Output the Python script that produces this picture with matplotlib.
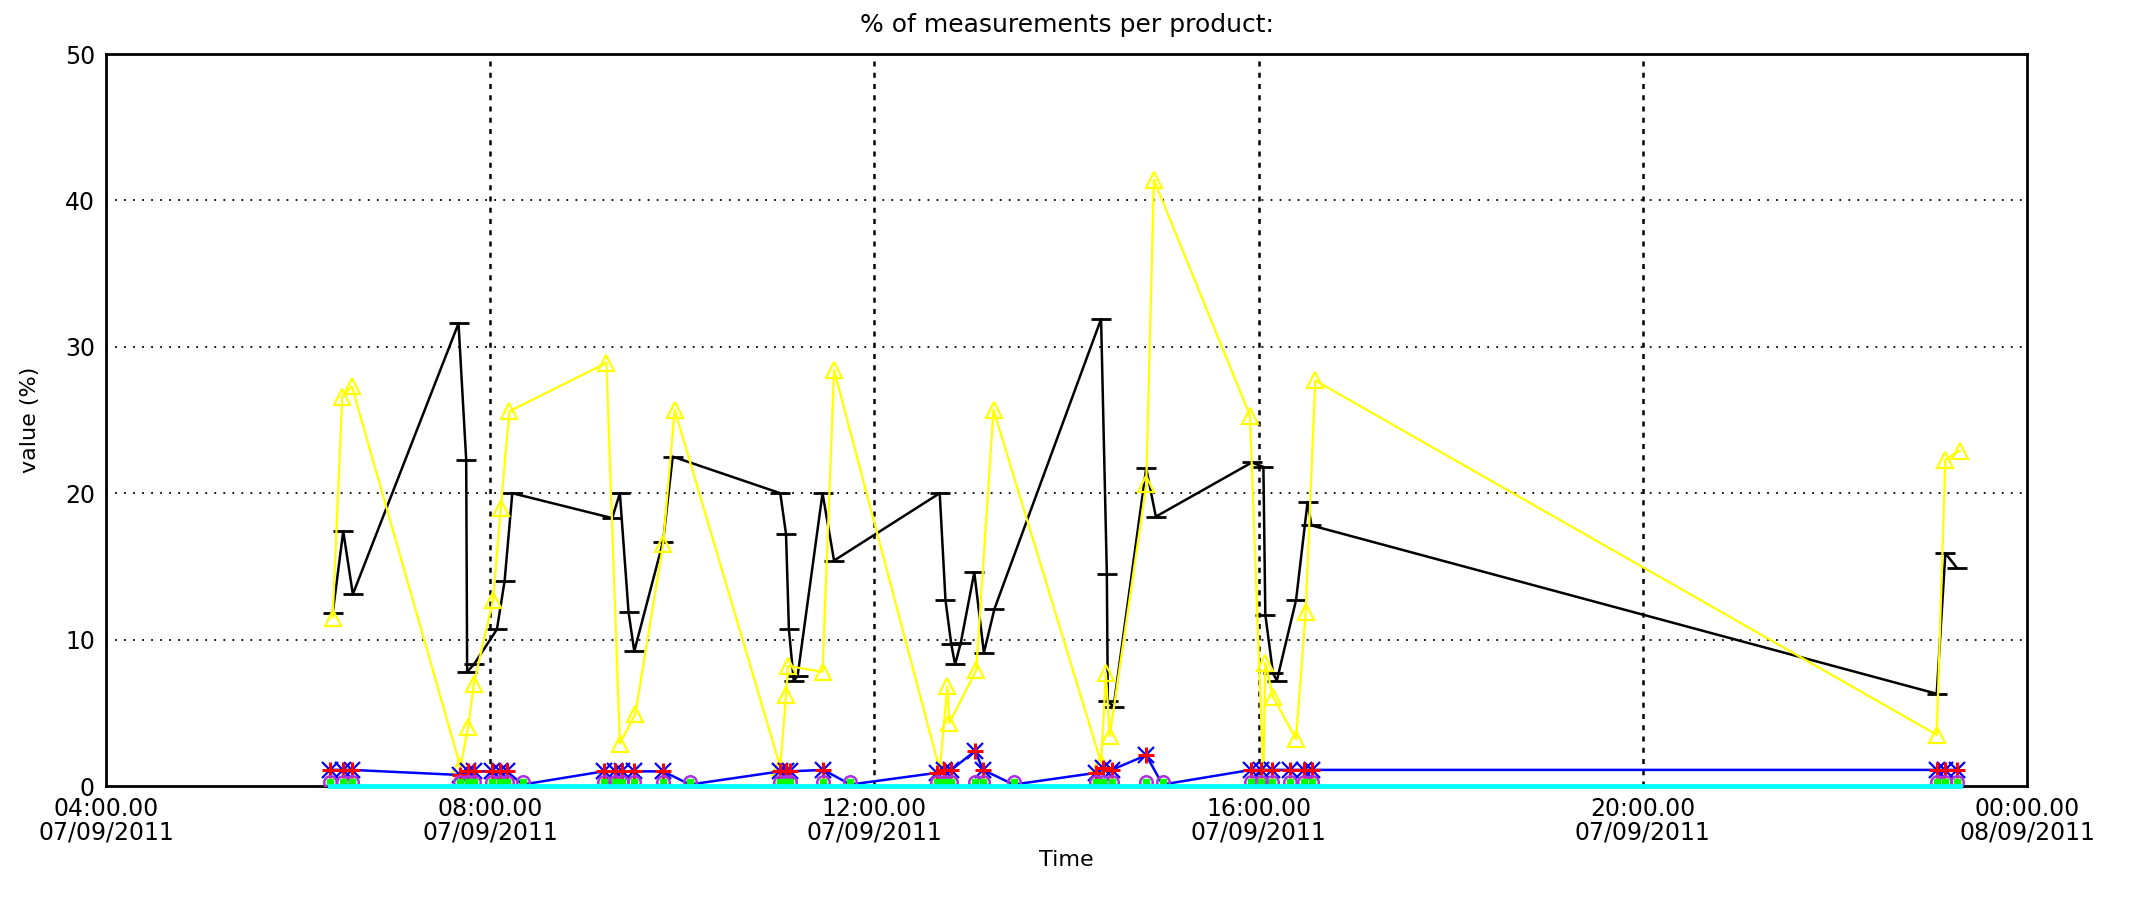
import matplotlib
matplotlib.use('Agg')
import matplotlib.pyplot as plt
import matplotlib.dates as mdates
import numpy as np
import pandas as pd

plt.rcParams['font.family'] = ['Liberation Sans Narrow', 'DejaVu Sans']
plt.rcParams['font.size'] = 16

# hours after midnight 07/09/2011, value (%)
black_hours = [6.36, 6.47, 6.57, 7.67, 7.75, 7.76, 7.83, 8.07, 8.15, 8.23,
               9.27, 9.35, 9.44, 9.50, 9.80, 9.90, 11.02, 11.08, 11.11, 11.16,
               11.20, 11.46, 11.58, 12.68, 12.74, 12.80, 12.84, 12.90, 13.04, 13.14,
               13.25, 14.36, 14.42, 14.43, 14.49, 14.83, 14.93, 15.93, 16.05, 16.07,
               16.15, 16.19, 16.39, 16.51, 16.55, 23.06, 23.15, 23.27]
black_vals = [11.8, 17.4, 13.1, 31.6, 22.3, 7.8, 8.3, 10.7, 14.0, 20.0,
              18.3, 20.0, 11.9, 9.2, 16.7, 22.5, 20.0, 17.2, 10.7, 7.2,
              7.5, 20.0, 15.4, 20.0, 12.7, 9.7, 8.3, 9.8, 14.6, 9.1,
              12.1, 31.9, 14.5, 5.8, 5.4, 21.7, 18.4, 22.1, 21.8, 11.7,
              7.7, 7.2, 12.7, 19.4, 17.8, 6.3, 15.9, 14.9]

yellow_hours = [6.36, 6.46, 6.56, 7.69, 7.77, 7.83, 8.03, 8.11, 8.20, 9.21,
                9.35, 9.51, 9.80, 9.92, 11.02, 11.08, 11.10, 11.46, 11.58, 12.68,
                12.76, 12.78, 13.06, 13.24, 14.36, 14.41, 14.45, 14.83, 14.91, 15.91,
                16.05, 16.07, 16.15, 16.39, 16.49, 16.59, 23.06, 23.15, 23.30]
yellow_vals = [11.5, 26.6, 27.3, 1.3, 4.0, 7.0, 12.7, 19.0, 25.6, 28.9,
               2.9, 4.9, 16.5, 25.7, 1.3, 6.2, 8.2, 7.8, 28.4, 1.1,
               6.8, 4.3, 7.9, 25.7, 1.6, 7.7, 3.4, 20.6, 41.4, 25.3,
               0.5, 8.4, 6.1, 3.2, 11.9, 27.7, 3.5, 22.3, 22.9]

blue_hours = [6.33, 6.47, 6.56, 7.69, 7.77, 7.83, 8.02, 8.10, 8.17, 8.34,
              9.18, 9.30, 9.37, 9.50, 9.80, 10.08, 11.02, 11.08, 11.12, 11.47,
              11.75, 12.65, 12.72, 12.80, 13.05, 13.13, 13.45, 14.31, 14.38, 14.47,
              14.83, 15.00, 15.92, 16.02, 16.14, 16.33, 16.47, 16.56, 23.06, 23.15,
              23.27]
blue_vals = [1.1, 1.1, 1.1, 0.75, 1.0, 1.0, 1.0, 1.0, 1.0, 0.1,
             1.0, 1.0, 1.0, 1.0, 1.0, 0.1, 1.0, 1.0, 1.0, 1.1,
             0.1, 0.9, 1.1, 1.1, 2.4, 1.1, 0.1, 0.9, 1.2, 1.1,
             2.1, 0.1, 1.1, 1.1, 1.1, 1.1, 1.1, 1.1, 1.1, 1.1,
             1.1]

low_vals = [0.3, 0.3, 0.3, 0.3, 0.3, 0.3, 0.3, 0.3, 0.3, 0.3,
            0.3, 0.3, 0.3, 0.3, 0.3, 0.3, 0.3, 0.3, 0.3, 0.3,
            0.3, 0.3, 0.3, 0.3, 0.3, 0.3, 0.3, 0.3, 0.3, 0.3,
            0.3, 0.3, 0.3, 0.3, 0.3, 0.3, 0.3, 0.3, 0.3, 0.3,
            0.3]

cyan_hours = [6.33, 23.30]
cyan_vals = [0.0, 0.0]

day0 = pd.Timestamp('2011-09-07')
def to_time(hours):
    return day0 + pd.to_timedelta(np.array(hours), unit='h')

fig = plt.figure(figsize=(21.29, 9.10), dpi=100)
ax = fig.add_axes([106/2129, 1-786/910, 1921/2129, 732/910])

ax.plot(to_time(black_hours), black_vals, color='k', lw=1.8,
        marker='_', ms=14, mew=2, zorder=3)
ax.plot(to_time(yellow_hours), yellow_vals, color='#ffff00', lw=1.6,
        marker='^', ms=11, mfc='none', mew=1.6, zorder=4)

bt = to_time(blue_hours)
bv = np.array(blue_vals)
ax.plot(bt, bv, color='#0000ff', lw=1.8, zorder=5)
star = bv > 0.5
ax.plot(bt[star], bv[star], ls='none', marker='x', ms=12, mew=1.6,
        color='#0000ff', zorder=6)
ax.plot(bt[star], bv[star], ls='none', marker='+', ms=12, mew=2.2,
        color='#ff0000', zorder=6)

ax.plot(bt, low_vals, ls='none', marker='o', ms=9, mfc='none', mew=1.8,
        color='#b030e0', zorder=6)
ax.plot(bt, low_vals, ls='none', marker='s', ms=4, color='#00ff00', zorder=6)

ax.plot(to_time(cyan_hours), cyan_vals, color='#00ffff', lw=3.5,
        zorder=8, clip_on=False)

ax.set_ylim(0, 50)
ax.set_yticks([0, 10, 20, 30, 40, 50])
ax.set_xlim(day0 + pd.Timedelta(hours=4), day0 + pd.Timedelta(hours=24))
ax.xaxis.set_major_locator(mdates.HourLocator(byhour=[0, 4, 8, 12, 16, 20]))
ax.xaxis.set_major_formatter(mdates.DateFormatter('%H:%M.%S\n%d/%m/%Y'))
ax.tick_params(axis='both', length=0, labelsize=17, pad=8)
for lab in ax.get_xticklabels():
    lab.set_linespacing(0.95)

# dotted grid like the original
for v in [10, 20, 30, 40]:
    ax.axhline(v, color='k', lw=1.3, ls=(0, (1, 4)), zorder=1)
for h in [8, 12, 16, 20]:
    ax.axvline(day0 + pd.Timedelta(hours=h), color='k', lw=1.8,
               ls=(0, (2, 2.5)), zorder=1)

for s in ax.spines.values():
    s.set_linewidth(2)

ax.set_title('% of measurements per product:', fontsize=18, pad=16)
ax.set_xlabel('Time', fontsize=16, labelpad=4)
ax.set_ylabel('value (%)', fontsize=16, labelpad=18)

fig.savefig('out.png', dpi=100)
